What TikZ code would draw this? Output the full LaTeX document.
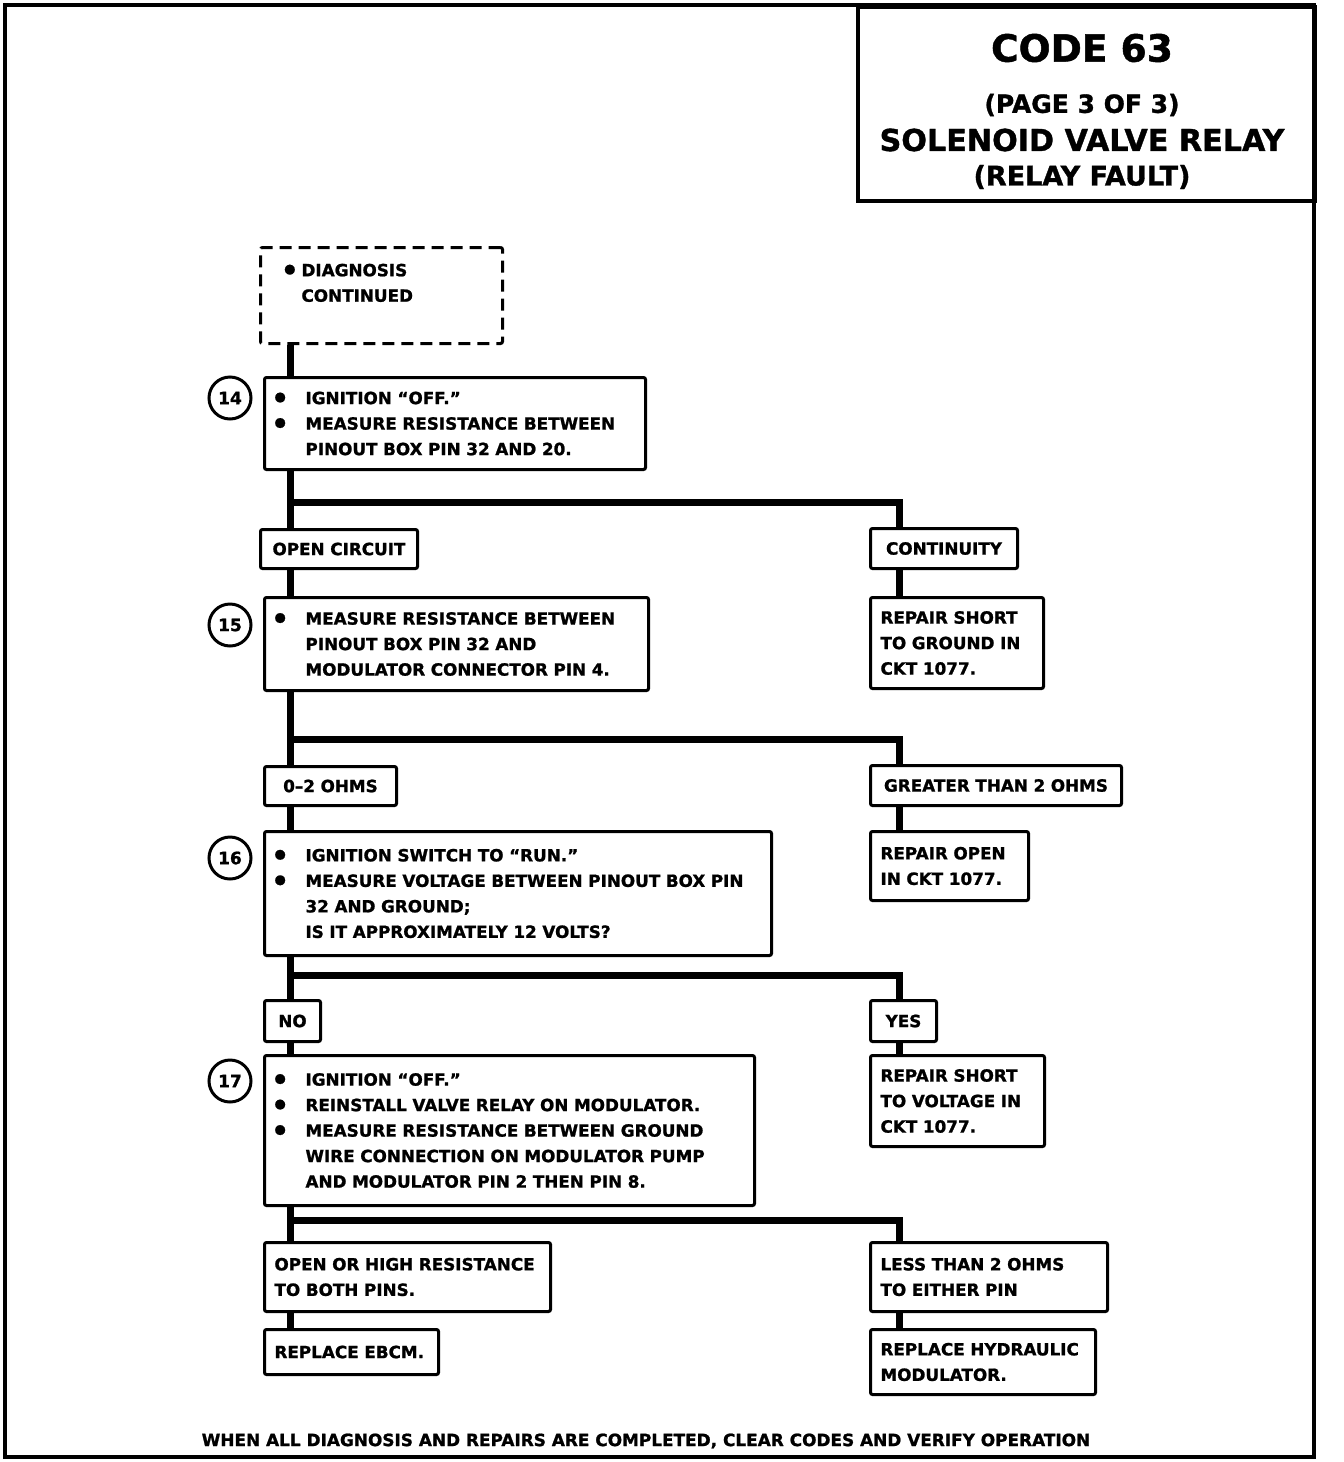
\documentclass[tikz,border=0pt]{standalone}
\usepackage{fontspec}
\setmainfont{DejaVu Sans}[BoldFeatures={FakeBold=1.2}]
\usetikzlibrary{positioning}
\newcommand{\bdot}{\raisebox{1.6pt}{\fontsize{6.5}{6.5}\selectfont ●}}
\newcommand{\bul}{\makebox[15.5pt][l]{\bdot}}
\newcommand{\ind}{\hspace*{15.5pt}}
\tikzset{
    stepbox/.style 2 args={
        draw,
        line width=1.5pt,
        rounded corners=1pt,
        anchor=north west,
        inner xsep=5pt,
        inner ysep=0pt,
        align=left,
        text width=#1,
        minimum height=#2,
        font=\bfseries\fontsize{8.4}{12.75}\selectfont},
    tagbox/.style 2 args={
        stepbox={#1}{#2},
        align=center},
    dashbox/.style 2 args={
        stepbox={#1}{#2},
        dash pattern=on 6pt off 3.5pt},
    stepnum/.style={
        draw,
        circle,
        line width=1.5pt,
        minimum size=21pt,
        inner sep=0pt,
        font=\bfseries\fontsize{8.5}{8.5}\selectfont},
    headline/.style={
        inner sep=0pt,
        font=\bfseries\fontsize{#1}{#1}\selectfont},
    wire/.style={
        line width=3.5pt,
        line cap=butt}}

\begin{document}
\begin{tikzpicture}[x=0.5pt,y=-0.5pt]
    \useasboundingbox (0,0) rectangle (1344,1462);
    \draw[line width=2pt] (5,5) rectangle (1314,1457);

    \node[draw,line width=2pt,anchor=north west,minimum width=228.5pt,minimum height=97pt] (tbox) at (856,5) {};
    \node[headline=18.8] (code) at (1082,48) {CODE 63};
    \node[headline=12.5] (page) at (1082,105) {(PAGE 3 OF 3)};
    \node[headline=15.1] (sole) at (1082,140) {SOLENOID VALVE RELAY};
    \node[headline=13.5] (fault) at (1082,177) {(RELAY FAULT)};

    \node[dashbox={111pt}{48pt}] (diag) at (259,246)
        {\makebox[15.5pt][r]{\bdot\hspace*{3pt}}DIAGNOSIS\\\ind CONTINUED\\\mbox{}};

    \node[stepbox={180.5pt}{46pt}] (s14) at (263,376)
        {\bul IGNITION “OFF.”\\\bul MEASURE RESISTANCE BETWEEN\\\ind PINOUT BOX PIN 32 AND 20.};
    \node[stepnum] (c14) at (230,398) {14};

    \node[tagbox={68.5pt}{19.5pt}] (open) at (259,528) {OPEN CIRCUIT};
    \node[tagbox={63.5pt}{20pt}] (cont) at (869,527) {CONTINUITY};

    \node[stepbox={182pt}{46.5pt}] (s15) at (263,596)
        {\bul MEASURE RESISTANCE BETWEEN\\\ind PINOUT BOX PIN 32 AND\\\ind MODULATOR CONNECTOR PIN 4.};
    \node[stepnum] (c15) at (230,625) {15};
    \node[stepbox={76.5pt}{45.5pt}] (rgnd) at (869,596)
        {REPAIR SHORT\\TO GROUND IN\\CKT 1077.};

    \node[tagbox={56pt}{19.5pt}] (ohm) at (263,765) {0–2 OHMS};
    \node[tagbox={115.5pt}{20pt}] (gt2) at (869,764) {GREATER THAN 2 OHMS};

    \node[stepbox={243.5pt}{62pt}] (s16) at (263,830)
        {\bul IGNITION SWITCH TO “RUN.”\\\bul MEASURE VOLTAGE BETWEEN PINOUT BOX PIN\\\ind 32 AND GROUND;\\\ind IS IT APPROXIMATELY 12 VOLTS?};
    \node[stepnum] (c16) at (230,858) {16};
    \node[stepbox={69pt}{34.5pt}] (ropen) at (869,830)
        {REPAIR OPEN\\IN CKT 1077.};

    \node[tagbox={18pt}{20.5pt}] (no) at (263,999) {NO};
    \node[tagbox={23pt}{20.5pt}] (yes) at (869,999) {YES};

    \node[stepbox={235pt}{75pt}] (s17) at (263,1054)
        {\bul IGNITION “OFF.”\\\bul REINSTALL VALVE RELAY ON MODULATOR.\\\bul MEASURE RESISTANCE BETWEEN GROUND\\\ind WIRE CONNECTION ON MODULATOR PUMP\\\ind AND MODULATOR PIN 2 THEN PIN 8.};
    \node[stepnum] (c17) at (230,1081) {17};
    \node[stepbox={77pt}{45.5pt}] (rvolt) at (869,1054)
        {REPAIR SHORT\\TO VOLTAGE IN\\CKT 1077.};

    \node[stepbox={133pt}{34.5pt}] (high) at (263,1241)
        {OPEN OR HIGH RESISTANCE\\TO BOTH PINS.};
    \node[stepbox={108.5pt}{34.5pt}] (less) at (869,1241)
        {LESS THAN 2 OHMS\\TO EITHER PIN};

    \node[stepbox={77pt}{22.5pt}] (ebcm) at (263,1328) {REPLACE EBCM.};
    \node[stepbox={102.5pt}{32.5pt}] (hydr) at (869,1328)
        {REPLACE HYDRAULIC\\MODULATOR.};

    \node[headline=8.45] (footer) at (646,1441)
        {WHEN ALL DIAGNOSIS AND REPAIRS ARE COMPLETED, CLEAR CODES AND VERIFY OPERATION};

    \coordinate (L) at (290,0);
    \coordinate (R) at (899,0);
    \coordinate (j1) at (290,502);
    \coordinate (j2) at (290,739);
    \coordinate (j3) at (290,975);
    \coordinate (j4) at (290,1220);

    \foreach \a/\b in {diag/s14,s14/open,open/s15,s15/ohm,ohm/s16,s16/no,no/s17,s17/high,high/ebcm}
        \draw[wire] (\a.south -| L) -- (\b.north -| L);
    \foreach \a/\b in {cont/rgnd,gt2/ropen,yes/rvolt,less/hydr}
        \draw[wire] (\a.south -| R) -- (\b.north -| R);
    \foreach \j/\b in {j1/cont,j2/gt2,j3/yes,j4/less}
        \draw[wire] (\j) -| (\b.north -| R);
\end{tikzpicture}
\end{document}
